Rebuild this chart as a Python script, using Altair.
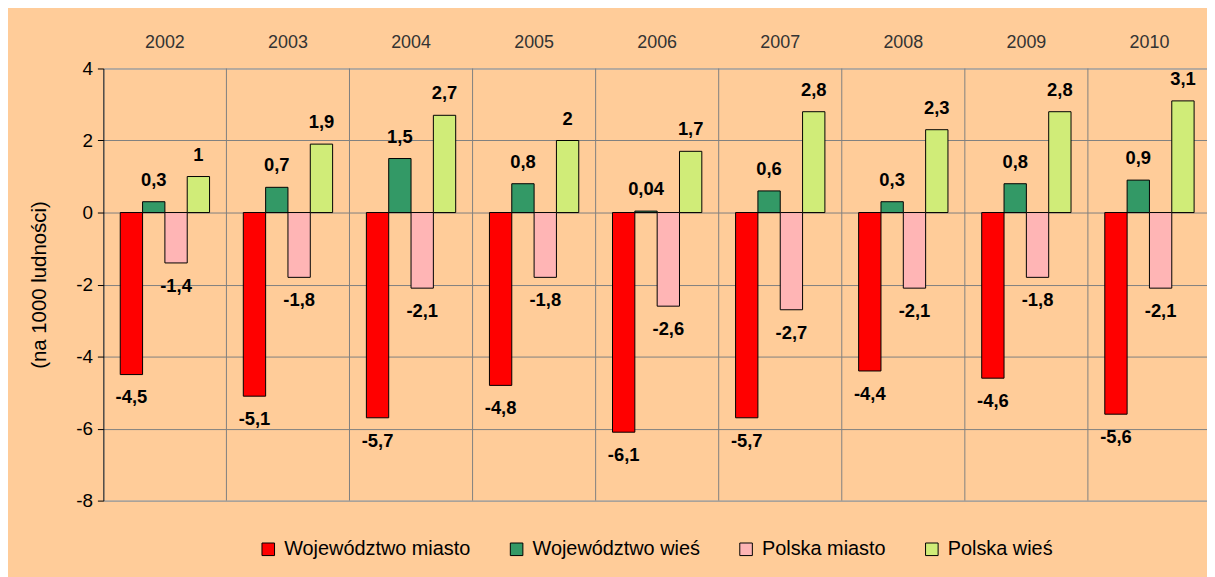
import altair as alt
import pandas as pd

years = ["2002", "2003", "2004", "2005", "2006", "2007", "2008", "2009", "2010"]
series = ["Województwo miasto", "Województwo wieś", "Polska miasto", "Polska wieś"]
woj_miasto = [-4.5, -5.1, -5.7, -4.8, -6.1, -5.7, -4.4, -4.6, -5.6]
woj_wies = [0.3, 0.7, 1.5, 0.8, 0.04, 0.6, 0.3, 0.8, 0.9]
pl_miasto = [-1.4, -1.8, -2.1, -1.8, -2.6, -2.7, -2.1, -1.8, -2.1]
pl_wies = [1, 1.9, 2.7, 2, 1.7, 2.8, 2.3, 2.8, 3.1]
colors = ["#FF0000", "#339966", "#FFB5B5", "#D0EC78"]
y_ticks = [-8, -6, -4, -2, 0, 2, 4]

rows = []
for s, vals in zip(series, [woj_miasto, woj_wies, pl_miasto, pl_wies]):
    for yr, v in zip(years, vals):
        rows.append({"year": yr, "series": s, "value": v,
                     "label": f"{v:g}".replace(".", ",")})
df = pd.DataFrame(rows)
sep_df = pd.DataFrame({"year": years[1:]})

FONT = "Liberation Sans"

xscale = alt.Scale(domain=years, range=[0, 1115], paddingInner=0, paddingOuter=0)
xaxis = alt.Axis(orient="top", title=None, ticks=False, domain=False,
                 labelAngle=0, labelFontSize=18, labelColor="#333333",
                 labelPadding=17, grid=False, labelFont=FONT)
x = alt.X("year:N", sort=years, scale=xscale, axis=xaxis)
xoff = alt.XOffset("series:N", sort=series,
                   scale=alt.Scale(domain=series, paddingInner=0, paddingOuter=0.756))
y = alt.Y("value:Q", scale=alt.Scale(domain=[-8, 4], nice=False, zero=False),
          axis=alt.Axis(values=y_ticks, title="(na 1000 ludności)", grid=True,
                        gridColor="#808080", gridWidth=1, domainColor="black",
                        tickColor="black", tickSize=6, labelPadding=5,
                        labelFontSize=19, labelColor="black", labelFont=FONT,
                        labelExpr="datum.value + ''",
                        titleFontSize=20.5, titleFontWeight="normal",
                        titleColor="black", titleFont=FONT, titlePadding=26))

base = alt.Chart(df)

bars = base.mark_bar(stroke="black", strokeWidth=1).encode(
    x=x, xOffset=xoff, y=y,
    color=alt.Color("series:N", sort=series,
                    scale=alt.Scale(domain=series, range=colors),
                    legend=alt.Legend(orient="none", legendX=156, legendY=474,
                                      direction="horizontal", columns=4,
                                      title=None, symbolType="square",
                                      symbolSize=160, symbolStrokeColor="black",
                                      symbolStrokeWidth=1, labelFontSize=20,
                                      labelFont=FONT, labelColor="black",
                                      labelLimit=0,
                                      columnPadding=36, labelOffset=6)),
)

seps = alt.Chart(sep_df).mark_rule(color="#808080", strokeWidth=1).encode(
    x=alt.X("year:N", sort=years, scale=xscale, bandPosition=0, axis=xaxis)
)

pos_lbl = base.transform_filter("datum.value >= 0").mark_text(
    dy=-22, fontSize=18.5, fontWeight="bold", font=FONT, color="black", baseline="middle"
).encode(x=x, xOffset=xoff, y=y, text="label:N")

neg_lbl = base.transform_filter("datum.value < 0").mark_text(
    dy=23, fontSize=18.5, fontWeight="bold", font=FONT, color="black", baseline="middle"
).encode(x=x, xOffset=xoff, y=y, text="label:N")

chart = alt.layer(bars, seps, pos_lbl, neg_lbl).properties(
    width=1111, height=435,
    autosize=alt.AutoSizeParams(type="none"),
    padding={"left": 96, "top": 59, "right": 0, "bottom": 75},
    background="#FFCC99",
).configure_view(fill="white", stroke="#999999", strokeWidth=1.5).configure(font=FONT)

chart.save("out.html", embed_options={"renderer": "svg", "actions": False})
